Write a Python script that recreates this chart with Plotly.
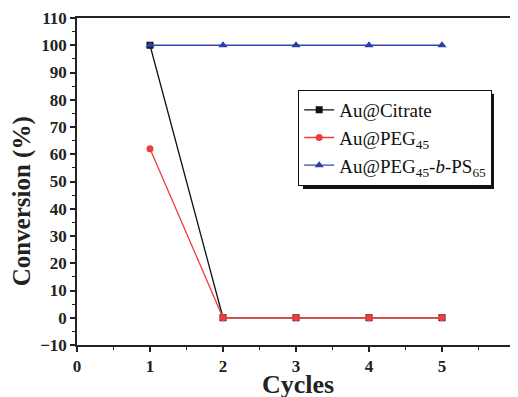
import plotly.graph_objects as go

cycles = [1, 2, 3, 4, 5]
citrate = [100, 0, 0, 0, 0]
peg45 = [62, 0, 0, 0, 0]
peg_ps = [100, 100, 100, 100, 100]
x_ticks = [0, 1, 2, 3, 4, 5, 6]

names = ["Au@Citrate", "Au@PEG<sub>45</sub>", "Au@PEG<sub>45</sub>-<i>b</i>-PS<sub>65</sub>"]
font = "Liberation Serif, Times New Roman, serif"

fig = go.Figure()
fig.add_trace(go.Scatter(x=cycles, y=citrate, name=names[0], mode="lines+markers",
                         line=dict(color="#111111", width=1.3),
                         marker=dict(symbol="square", size=7, color="#111111")))
fig.add_trace(go.Scatter(x=cycles, y=peg45, name=names[1], mode="lines+markers",
                         line=dict(color="#f03c3c", width=1.3),
                         marker=dict(symbol="circle", size=7, color="#f03c3c")))
fig.add_trace(go.Scatter(x=cycles, y=peg_ps, name=names[2], mode="lines+markers",
                         line=dict(color="#3048b0", width=1.3),
                         marker=dict(symbol="triangle-up", size=8, color="#2a3fa8")))

axis_common = dict(showline=True, linecolor="#222222", linewidth=1.5, mirror=True,
                   ticks="outside", ticklen=5, tickwidth=1.5, tickcolor="#222222",
                   showgrid=False, zeroline=False, automargin=False,
                   ticklabeloverflow="allow",
                   tickfont=dict(family=font, size=17, color="#222222"))

# the last label sits on the window edge, where plotly drops it; it is drawn as an annotation below
fig.update_xaxes(range=[0, 6], tickmode="array", tickvals=x_ticks,
                 ticktext=[f"<b>{v}</b>" for v in x_ticks[:-1]] + [""],
                 minor=dict(ticks="outside", ticklen=3, dtick=0.5, tick0=0, tickcolor="#222222", tickwidth=1.2),
                 **axis_common)
fig.update_yaxes(range=[-10, 110], dtick=10, tick0=0,
                 minor=dict(ticks="outside", ticklen=3, dtick=5, tickcolor="#222222", tickwidth=1.2),
                 tickprefix="<b>", ticksuffix="</b>", **axis_common)

fig.add_annotation(text=f"<b>{x_ticks[-1]}</b>", xref="x", yref="paper", x=x_ticks[-1], y=-0.062,
                   xanchor="center", yanchor="middle", showarrow=False,
                   font=dict(family=font, size=17, color="#222222"))

# axis titles (placed as in the reference)
fig.add_annotation(text="<b>Cycles</b>", xref="paper", yref="paper", x=0.505, y=-0.07,
                   xanchor="center", yanchor="top", showarrow=False,
                   font=dict(family=font, size=26, color="#222222"))
fig.add_annotation(text="<b>Conversion (%)</b>", xref="paper", yref="paper", x=-0.125, y=0.44,
                   xanchor="center", yanchor="middle", textangle=-90, showarrow=False,
                   font=dict(family=font, size=25, color="#222222"))

# legend shadow
fig.add_shape(type="rect", xref="paper", yref="paper", x0=0.516, x1=0.952, y0=0.477, y1=0.768,
              fillcolor="#111111", line=dict(width=0), layer="below")

# page body has an 8px default margin; the figure is enlarged by it so the plot area
# lands where the reference has it inside the 518x397 window
fig.update_layout(
    width=526, height=405,
    margin=dict(l=69, r=19, t=10, b=68),
    plot_bgcolor="white", paper_bgcolor="white",
    showlegend=True,
    legend=dict(x=0.505, y=0.78, xanchor="left", yanchor="top",
                bgcolor="white", bordercolor="#111111", borderwidth=1,
                font=dict(family=font, size=19, color="#111111"),
                tracegroupgap=0, itemwidth=30),
)

fig.write_html("out.html")
